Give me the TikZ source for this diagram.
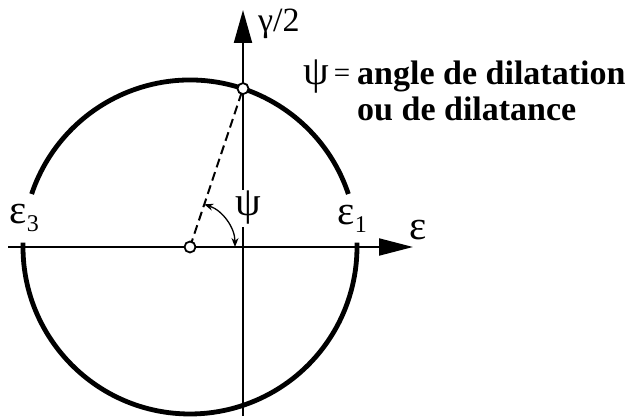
\documentclass[tikz,border=0pt]{standalone}
\usepackage{fontspec}
\setmainfont{Liberation Serif}
\usetikzlibrary{arrows.meta}
\begin{document}
\begin{tikzpicture}[x=1pt,y=1pt,
  lbl/.style={inner sep=0pt, font=\fontsize{34}{36}\selectfont},
  greek/.style={inner sep=0pt, font=\fontsize{41}{42}\selectfont},
  sub/.style={inner sep=0pt, font=\fontsize{24}{24}\selectfont},
  bold text/.style={inner sep=0pt, font=\fontsize{34}{36}\selectfont\bfseries},
  ax/.style={line width=2pt},
  circ/.style={line width=4.8pt},
  dash line/.style={line width=2pt, dash pattern=on 9pt off 5pt},
  dot/.style={circle, draw, fill=white, line width=1.8pt, minimum size=11pt, inner sep=0pt},
  angarrow/.style={line width=1.3pt, {Stealth[length=9pt,width=7pt]}-{Stealth[length=9pt,width=7pt]}}]
\useasboundingbox (0,0) rectangle (633,416);
\coordinate (C) at (190,169);
\coordinate (P) at (243,327.4);
\coordinate (xl) at (8,169);
\coordinate (xr) at (413,169);
\coordinate (yb) at (243,0);
\coordinate (yt) at (243,406);
% circle arcs
\draw[circ] ([shift={(18.5:167)}]C) arc[start angle=18.5, end angle=161.5, radius=167];
\draw[circ] ([shift={(178.5:167)}]C) arc[start angle=178.5, end angle=361.5, radius=167];
% axes
\draw[ax,-{Triangle[length=34pt,width=17pt]}] (xl) -- (xr);
\draw[ax,-{Triangle[length=33pt,width=18pt]}] (yb) -- (yt);
% dashed radius
\draw[dash line] (C) -- (P);
% angle
\draw[angarrow] ([shift={(71.5:45)}]C) arc[start angle=71.5, end angle=0, radius=45];
\fill[white] (236,189) rectangle (260,226);
\node[greek] (psi) at (248,208) {ψ};
% points
\node[dot] (Cdot) at (C) {};
\node[dot] (Pdot) at (P) {};
% labels
\node[greek, anchor=base west] (e3) at (9,193) {ε};
\node[sub, anchor=base west] (e3s) at (e3.base east) [yshift=-9pt] {3};
\node[greek, anchor=base west] (e1) at (337,191) {ε};
\node[sub, anchor=base west] (e1s) at (e1.base east) [yshift=-8pt] {1};
\node[greek, anchor=base west] (e) at (409,176) {ε};
\node[lbl, anchor=base west] (g) at (258,384) {γ/2};
\node[greek, anchor=base west] (psieq) at (303,331) {ψ\hspace{5pt}\raisebox{2pt}{\fontsize{29}{30}\selectfont =}};
\node[bold text, anchor=base west] (t1) at (357,331) {angle de dilatation};
\node[bold text, anchor=base west] (t2) at (357,295) {ou de dilatance};
\end{tikzpicture}
\end{document}
